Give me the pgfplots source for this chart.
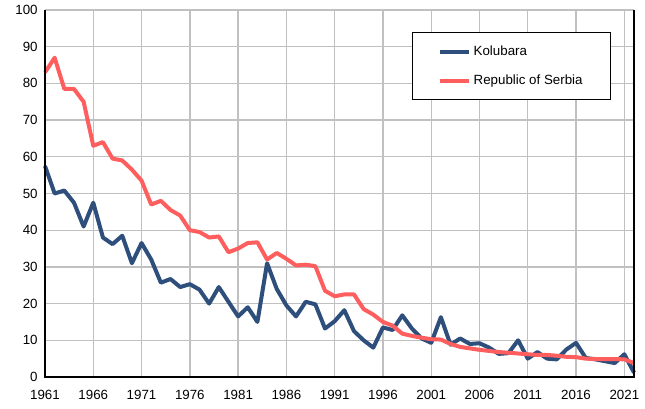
\documentclass[border=0pt]{standalone}
\usepackage{pgfplots}
\pgfplotsset{compat=1.18}
\usepackage{fontspec}
\setmainfont{Liberation Sans}
\definecolor{kblue}{RGB}{46,78,124}
\definecolor{sred}{RGB}{255,94,94}
\definecolor{gridgray}{RGB}{192,192,192}
\begin{document}
\begin{tikzpicture}
\useasboundingbox (-33.75pt,-24pt) rectangle (450pt,282.75pt);
\begin{axis}[
  at={(0,0)}, anchor=south west,
  scale only axis, width=441.75pt, height=275.25pt,
  xmin=1961, xmax=2022, ymin=0, ymax=100,
  xtick={1961,1966,...,2021}, ytick={0,10,...,100},
  xticklabel style={/pgf/number format/1000 sep={}, yshift=-6pt},
  yticklabel style={xshift=-2pt},
  /pgf/number format/assume math mode=true,
  tick label style={font=\fontsize{10}{12}\selectfont},
  major tick length=0pt,
  grid=major, grid style={gridgray, line width=1pt},
  axis line style={draw=none},
  clip=false,
  legend style={at={(0.961,0.94)}, anchor=north east, draw=black, line width=0.6pt,
    font=\fontsize{10}{12}\selectfont, inner xsep=19pt, inner ysep=8pt,
    row sep=9pt, legend cell align=left},
  legend image code/.code={\draw[#1, line width=3pt] (0pt,0pt) -- (22pt,0pt);},
]
\addplot[kblue, line width=3pt, line join=round] coordinates {
(1961,57.5)(1962,50)(1963,50.8)(1964,47.5)(1965,41)(1966,47.5)(1967,38)(1968,36.2)(1969,38.5)(1970,31)
(1971,36.5)(1972,32)(1973,25.7)(1974,26.7)(1975,24.5)(1976,25.3)(1977,23.8)(1978,20)(1979,24.5)(1980,20.5)
(1981,16.5)(1982,19)(1983,15)(1984,31)(1985,24)(1986,19.5)(1987,16.5)(1988,20.5)(1989,19.8)(1990,13.2)
(1991,15.2)(1992,18.2)(1993,12.5)(1994,10)(1995,8)(1996,13.5)(1997,12.8)(1998,16.8)(1999,13.2)(2000,10.5)
(2001,9.3)(2002,16.3)(2003,8.8)(2004,10.5)(2005,9)(2006,9.2)(2007,8)(2008,6.3)(2009,6.5)(2010,10)
(2011,5)(2012,6.8)(2013,5)(2014,4.8)(2015,7.5)(2016,9.3)(2017,5.2)(2018,4.8)(2019,4.3)(2020,3.8)
(2021,6.2)(2022,1.2)};
\addlegendentry{Kolubara}
\addplot[sred, line width=3pt, line join=round] coordinates {
(1961,83)(1962,87)(1963,78.5)(1964,78.5)(1965,75)(1966,63)(1967,64)(1968,59.5)(1969,59)(1970,56.5)
(1971,53.5)(1972,47)(1973,48)(1974,45.5)(1975,44)(1976,40)(1977,39.5)(1978,38)(1979,38.3)(1980,34)
(1981,35)(1982,36.5)(1983,36.7)(1984,32)(1985,33.8)(1986,32.2)(1987,30.4)(1988,30.6)(1989,30.2)(1990,23.5)
(1991,22)(1992,22.5)(1993,22.5)(1994,18.5)(1995,17)(1996,15)(1997,14)(1998,11.8)(1999,11.2)(2000,10.7)
(2001,10.3)(2002,10.2)(2003,9)(2004,8.2)(2005,7.8)(2006,7.4)(2007,7.1)(2008,6.8)(2009,6.6)(2010,6.4)
(2011,6.2)(2012,6.0)(2013,6.0)(2014,5.8)(2015,5.5)(2016,5.4)(2017,5.0)(2018,4.9)(2019,4.9)(2020,4.9)
(2021,4.8)(2022,3.8)};
\addlegendentry{Republic of Serbia}
\draw[black, line width=1pt] (rel axis cs:0,1) -- (rel axis cs:0,0) -- (rel axis cs:1,0) -- (rel axis cs:1,1);
\end{axis}
\end{tikzpicture}
\end{document}
